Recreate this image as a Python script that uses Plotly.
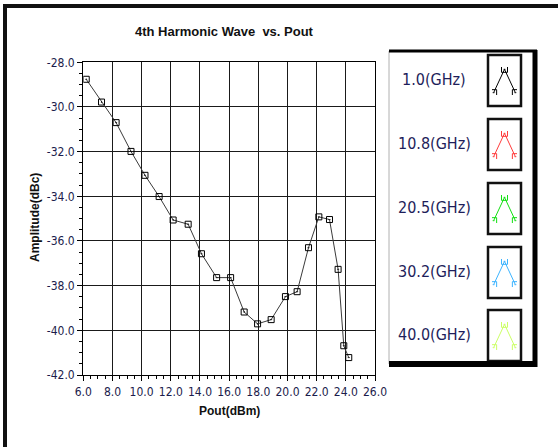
import plotly.graph_objects as go

# Measured 4th harmonic level vs. output power (1.0 GHz)
pout_dbm = [6.2, 7.25, 8.25, 9.27, 10.23, 11.2, 12.16, 13.19, 14.1, 15.14, 16.1,
            17.03, 17.95, 18.88, 19.86, 20.66, 21.44, 22.15, 22.88, 23.47, 23.86, 24.2]
amp_dbc = [-28.76, -29.78, -30.70, -31.99, -33.06, -34.01, -35.06, -35.25, -36.57, -37.64, -37.64,
           -39.18, -39.71, -39.52, -38.49, -38.27, -36.30, -34.92, -35.04, -37.27, -40.69, -41.22]

x_ticks = [6, 8, 10, 12, 14, 16, 18, 20, 22, 24, 26]
y_ticks = [-42, -40, -38, -36, -34, -32, -30, -28]

freq_labels = ["1.0(GHz)", "10.8(GHz)", "20.5(GHz)", "30.2(GHz)", "40.0(GHz)"]
freq_colors = ["#000000", "#ff3b3b", "#11e011", "#3cb4ff", "#ccff66"]
icon_x = [0, 1, 2]
icon_y = [0, 1, 0]

W, H = 558, 447
TICK_COLOR = "#1c1c4c"
NARROW = "DejaVu Sans Condensed"


def px(x):
    return x / W


def py(y):
    return 1 - y / H


fig = go.Figure()

fig.add_trace(go.Scatter(
    x=pout_dbm, y=amp_dbc, mode="lines+markers",
    line=dict(color="#3a3a3a", width=1),
    marker=dict(symbol="square-open-dot", size=6, color="#000000",
                line=dict(width=1, color="#000000")),
    showlegend=False, hoverinfo="x+y",
))

# plot area in pixels
X0, X1, Y0, Y1 = 83.3, 375.0, 62.3, 375.0

fig.update_layout(
    template="none",
    width=W, height=H, autosize=False,
    margin=dict(l=0, r=0, t=0, b=0, pad=0, autoexpand=False),
    paper_bgcolor="white", plot_bgcolor="white",
    font=dict(family="Arial, Liberation Sans, sans-serif", color=TICK_COLOR, size=12),
    showlegend=False,
    xaxis=dict(
        domain=[px(X0), px(X1)], range=[6, 26], automargin=False,
        tickvals=x_ticks, ticktext=[f"{v:.1f}" for v in x_ticks],
        showgrid=True, gridcolor="#1a1a1a", gridwidth=1.3,
        showline=True, linecolor="#000000", linewidth=1.3, mirror=True,
        ticks="outside", ticklen=5, tickcolor="#000000",
        minor=dict(dtick=0.5, tick0=6, ticks="outside", ticklen=3, tickcolor="#000000", showgrid=False),
        zeroline=False, tickfont=dict(size=12, family=NARROW, color=TICK_COLOR),
    ),
    yaxis=dict(
        domain=[py(Y1), py(Y0)], range=[-42, -28], automargin=False,
        tickvals=y_ticks, ticktext=[f"{v:.1f}" for v in y_ticks],
        showgrid=True, gridcolor="#1a1a1a", gridwidth=1.3,
        showline=True, linecolor="#000000", linewidth=1.3, mirror=True,
        ticks="outside", ticklen=5, tickcolor="#000000",
        minor=dict(dtick=0.5, tick0=-42, ticks="outside", ticklen=3, tickcolor="#000000", showgrid=False),
        zeroline=False, tickfont=dict(size=12, family=NARROW, color=TICK_COLOR),
    ),
)

fig.add_annotation(
    x=px(224), y=py(31), xref="paper", yref="paper", showarrow=False,
    xanchor="center", yanchor="middle",
    text="<b>4th Harmonic Wave  vs. Pout</b>", font=dict(size=13, color="#111111"),
)
fig.add_annotation(
    x=px(229), y=py(411), xref="paper", yref="paper", showarrow=False,
    xanchor="center", yanchor="middle",
    text="<b>Pout(dBm)</b>", font=dict(size=12, color="#111111"),
)
fig.add_annotation(
    x=px(35), y=py(218), xref="paper", yref="paper", showarrow=False,
    xanchor="center", yanchor="middle", textangle=-90,
    text="<b>Amplitude(dBc)</b>", font=dict(size=12, color="#111111"),
)

shapes = []
# outer window frame
shapes.append(dict(type="line", xref="paper", yref="paper", x0=px(3), x1=px(W), y0=py(6), y1=py(6),
                   line=dict(color="#111111", width=4)))
shapes.append(dict(type="line", xref="paper", yref="paper", x0=px(5), x1=px(5), y0=py(4), y1=py(H),
                   line=dict(color="#111111", width=4)))

# legend panel
LX0, LX1, LY0, LY1 = 389, 537, 51, 364
shapes.append(dict(type="line", xref="paper", yref="paper", x0=px(LX0), x1=px(LX0), y0=py(LY0), y1=py(LY1),
                   line=dict(color="#b0b0b0", width=1)))
shapes.append(dict(type="line", xref="paper", yref="paper", x0=px(LX0), x1=px(LX1), y0=py(LY0), y1=py(LY0),
                   line=dict(color="#000000", width=3)))
shapes.append(dict(type="line", xref="paper", yref="paper", x0=px(LX1 - 2), x1=px(LX1 - 2), y0=py(LY0 - 1), y1=py(LY1 + 3),
                   line=dict(color="#000000", width=5)))
shapes.append(dict(type="line", xref="paper", yref="paper", x0=px(LX0), x1=px(LX1), y0=py(LY1), y1=py(LY1),
                   line=dict(color="#000000", width=6)))

row_top = [55, 119, 183, 247, 310]
box_h = 51
for i, (lab, col) in enumerate(zip(freq_labels, freq_colors)):
    t = row_top[i]
    b = t + box_h
    shapes.append(dict(type="rect", xref="paper", yref="paper",
                       x0=px(488), x1=px(521), y0=py(b), y1=py(t),
                       line=dict(color="#111111", width=2.5), fillcolor="white", layer="below"))
    fig.add_annotation(x=px(434), y=py((t + b) / 2 - 1), xref="paper", yref="paper", showarrow=False,
                       xanchor="center", yanchor="middle",
                       text=lab, font=dict(size=16, family=NARROW, color="#1e1e5a"))
    n = i + 2
    fig.add_trace(go.Scatter(
        x=icon_x, y=icon_y, mode="lines+markers", xaxis=f"x{n}", yaxis=f"y{n}",
        line=dict(color=col, width=1),
        marker=dict(symbol="square-open-dot", size=6, color=col, line=dict(width=1, color=col)),
        showlegend=False, hoverinfo="skip",
    ))
    fig.layout[f"xaxis{n}"] = dict(domain=[px(492), px(517)], range=[-0.15, 2.15], visible=False,
                                   fixedrange=True, anchor=f"y{n}", automargin=False)
    fig.layout[f"yaxis{n}"] = dict(domain=[py(t + 40), py(t + 12)], range=[-0.1, 1.1], visible=False,
                                   fixedrange=True, anchor=f"x{n}", automargin=False)

fig.update_layout(shapes=shapes)
fig.write_html("out.html")
